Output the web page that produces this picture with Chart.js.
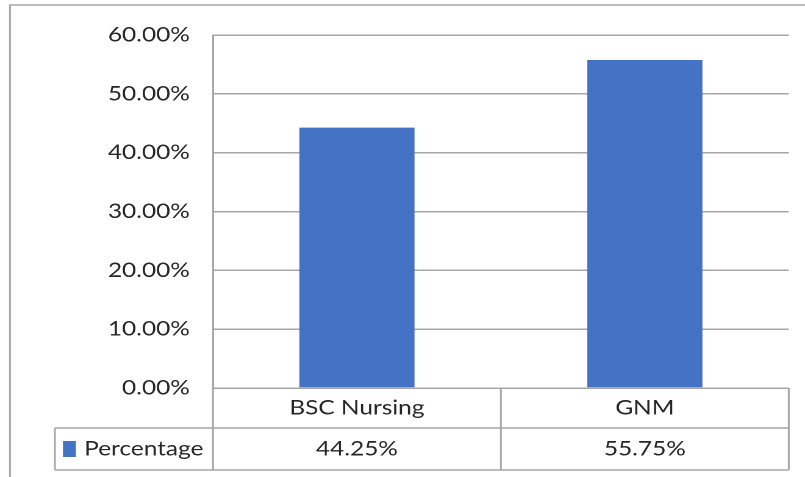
<!DOCTYPE html>
<html>
<head>
<meta charset="utf-8">
<script src="https://cdn.jsdelivr.net/npm/chart.js@4.4.0/dist/chart.umd.min.js"></script>
<style>
    html, body { margin: 0; padding: 0; background: #fff; width: 805px; height: 477px; overflow: hidden; }
    #legenda-topo { position: absolute; left: -21px; top: -32px; font: 29.5px/29.5px 'Liberation Serif'; white-space: nowrap; color: #000; }
    /* o grafico original esta esticado na horizontal */
    #wrap { position: absolute; left: 0; top: 0; transform: scaleX(1.2197); transform-origin: 0 0; }
    canvas { display: block; }
</style>
</head>
<body>
<div id="legenda-topo">Graph represents the percentage of data according to the length of the course</div>
<div id="wrap"><canvas id="myChart-1" width="660" height="477"></canvas></div>
<script>
var categorias = ['BSC Nursing', 'GNM'];
var percentual = [44.25, 55.75];
var nomeSerie = 'Percentage';
var ticksY = [0, 10, 20, 30, 40, 50, 60];

var azul = '#4472C4';
var cinza = '#a6a6a6';
var corTexto = '#262626';
var fonte = { family: 'Lato', size: 20 };

// tabela de dados abaixo do eixo x + borda externa
var tabela = {
    id: 'tabela',
    beforeDraw: function (chart) {
        var ctx = chart.ctx;
        ctx.save();
        ctx.strokeStyle = cinza;
        ctx.lineWidth = 1.5;
        ctx.beginPath();
        ctx.moveTo(8.2, 477);
        ctx.lineTo(8.2, 5);
        ctx.lineTo(660, 5);
        ctx.stroke();
        ctx.restore();
    },
    afterDraw: function (chart) {
        var ctx = chart.ctx;
        var a = chart.chartArea;
        var x = chart.scales.x;
        var r1 = a.bottom + 40, r2 = r1 + 42, esq = 45;
        var meio = (x.getPixelForTick(0) + x.getPixelForTick(1)) / 2;
        var colunas = [a.left, meio, a.right];

        ctx.save();
        ctx.strokeStyle = cinza;
        ctx.lineWidth = 1.5;
        ctx.beginPath();
        colunas.forEach(function (cx) {
            ctx.moveTo(cx, a.bottom);
            ctx.lineTo(cx, r2);
        });
        ctx.moveTo(esq, r1); ctx.lineTo(a.right, r1);
        ctx.moveTo(esq, r2); ctx.lineTo(a.right, r2);
        ctx.moveTo(esq, r1); ctx.lineTo(esq, r2);
        ctx.stroke();

        var ym = (r1 + r2) / 2;
        ctx.fillStyle = azul;
        ctx.fillRect(51.6, ym - 8, 10.6, 16);

        ctx.fillStyle = corTexto;
        ctx.font = fonte.size + 'px ' + fonte.family;
        ctx.textBaseline = 'middle';
        ctx.textAlign = 'left';
        ctx.fillText(nomeSerie, 69, ym);
        ctx.textAlign = 'center';
        percentual.forEach(function (v, i) {
            ctx.fillText(v.toFixed(2) + '%', x.getPixelForTick(i), ym);
        });
        ctx.restore();
    }
};

var myChart_1 = document.getElementById('myChart-1').getContext('2d');
var chart = new Chart(myChart_1, {
    type: 'bar',
    data: {
        labels: categorias,
        datasets: [{
            label: nomeSerie,
            data: percentual,
            backgroundColor: azul,
            barPercentage: 0.4,
            categoryPercentage: 1
        }]
    },
    options: {
        responsive: false,
        animation: false,
        devicePixelRatio: 2,
        layout: { padding: { left: 0, right: 13.3, top: 35, bottom: 7 } },
        plugins: {
            legend: { display: false },
            tooltip: { enabled: false }
        },
        scales: {
            x: {
                grid: { display: false, drawTicks: false },
                border: { display: false },
                ticks: { font: fonte, color: corTexto, padding: 8, maxRotation: 0 },
                afterFit: function (s) { s.height = 82; }
            },
            y: {
                min: ticksY[0],
                max: ticksY[ticksY.length - 1],
                grid: { color: cinza, lineWidth: 1.5, drawTicks: false },
                border: { display: true, color: cinza, width: 1.5 },
                afterBuildTicks: function (s) {
                    s.ticks = ticksY.map(function (v) { return { value: v }; });
                },
                ticks: {
                    font: fonte,
                    color: corTexto,
                    padding: 19,
                    callback: function (value) {
                        return value.toFixed(2) + '%';
                    }
                },
                afterFit: function (s) { s.width = 174.6; }
            }
        }
    },
    plugins: [tabela]
});
</script>
</body>
</html>
